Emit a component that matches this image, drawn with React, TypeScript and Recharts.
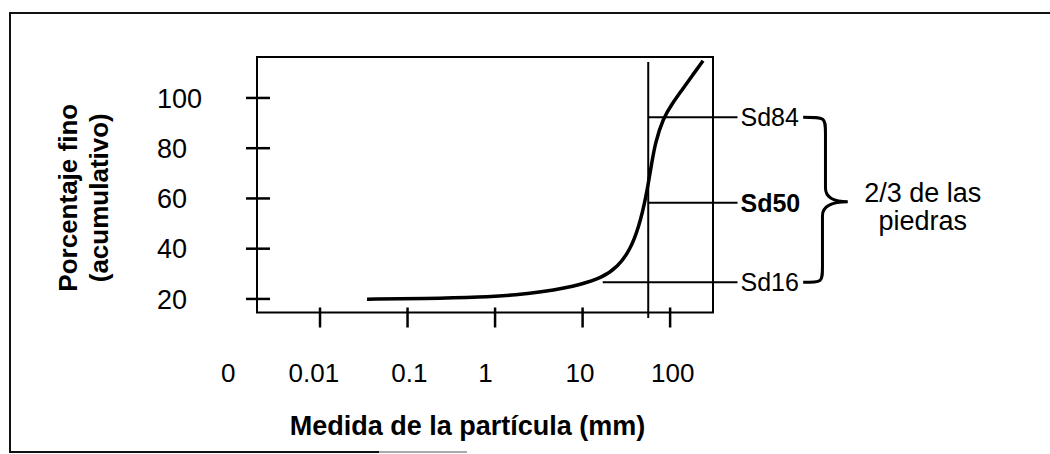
import React from 'react';
import { LineChart, Line, XAxis, YAxis, ReferenceLine, ReferenceArea } from 'recharts';

const FONT = '"Liberation Sans", Arial, Helvetica, sans-serif';

// Curve: particle size (mm) vs. cumulative percent finer
const particleSizeMm = [0.0344, 0.155, 0.71, 1.78, 3.63, 6.3, 9.1, 16.3, 25.5, 34.9, 44.2, 53.2, 60.7, 67.4, 83.2, 105, 137, 178, 238];
const percentFine = [19.9, 20.1, 20.7, 21.6, 22.9, 24.4, 25.6, 28.2, 32.9, 39.5, 48.8, 60.7, 72.7, 82.0, 91.9, 97.6, 103.2, 108.8, 114.8];

// Axis ticks
const xTickMm = [0.01, 0.1, 1, 10, 100];
const xLabelPosLog = [-3.05, -2.07, -0.98, -0.11, 0.97, 2.03];
const xLabelTexts = ['0', '0.01', '0.1', '1', '10', '100'];
const yTicks = [20, 40, 60, 80, 100];

// Domains (x in log10 mm)
const xDomain = [-2.72, 2.49];
const yDomain = [14.6, 116.3];

// Reference marks
const d50Log = 1.75;
const verticalSpan = [12.4, 114.3];
const sdNames = ['Sd84', 'Sd50', 'Sd16'];
const sdPercent = [92.3, 58.3, 26.6];
const sdStartLog = [1.75, 1.75, 1.23];
const sdEndLog = 2.77;
const braceX = [3.52, 4.03];
const braceText = ['2/3 de las', 'piedras'];

const data = particleSizeMm.map((mm, i) => ({ x: Math.log10(mm), y: percentFine[i] }));
const xTicks = xTickMm.map((v) => Math.log10(v));
const allXTicks = [...xTicks, ...xLabelPosLog].sort((a, b) => a - b);

const near = (a: number, b: number) => Math.abs(a - b) < 1e-6;

const YTick = (props: any) => {
  const { x, y, payload } = props;
  return (
    <g>
      <line x1={x - 11} x2={x + 13} y1={y} y2={y} stroke="#000" strokeWidth={2.5} />
      <text x={x - 100} y={y} dy="0.36em" fontSize={27} fontFamily={FONT} fill="#000">
        {payload.value}
      </text>
    </g>
  );
};

const XTick = (props: any) => {
  const { x, y, payload } = props;
  const v = payload.value;
  const isMark = xTicks.some((t) => near(t, v));
  const labelIdx = xLabelPosLog.findIndex((t) => near(t, v));
  return (
    <g>
      {isMark && <line x1={x} x2={x} y1={y - 5} y2={y + 15} stroke="#000" strokeWidth={2.5} />}
      {labelIdx >= 0 && (
        <text x={x} y={y + 69} textAnchor="middle" fontSize={26} fontFamily={FONT} fill="#000">
          {xLabelTexts[labelIdx]}
        </text>
      )}
    </g>
  );
};

const XTitle = (props: any) => {
  const vb = props.viewBox || { x: 0, y: 0, width: 0, height: 0 };
  return (
    <text
      x={vb.x + vb.width / 2 - 17.5}
      y={vb.y + 122.5}
      textAnchor="middle"
      fontSize={27}
      fontWeight="bold"
      fontFamily={FONT}
      fill="#000"
    >
      Medida de la partícula (mm)
    </text>
  );
};

const YTitle = (props: any) => {
  const vb = props.viewBox || { x: 0, y: 0, width: 0, height: 0 };
  const cy = vb.y + vb.height / 2 + 13;
  const x1 = vb.x + 77;
  const x2 = vb.x + 108;
  return (
    <g>
      <text
        x={x1}
        y={cy}
        transform={`rotate(-90, ${x1}, ${cy})`}
        textAnchor="middle"
        fontSize={26}
        fontWeight="bold"
        fontFamily={FONT}
        fill="#000"
      >
        Porcentaje fino
      </text>
      <text
        x={x2}
        y={cy}
        transform={`rotate(-90, ${x2}, ${cy})`}
        textAnchor="middle"
        fontSize={26}
        fontWeight="bold"
        fontFamily={FONT}
        fill="#000"
      >
        (acumulativo)
      </text>
    </g>
  );
};

const Brace = (props: any) => {
  const { x, y, width, height } = props;
  const x0 = x;
  const y0 = y;
  const y1 = y + height;
  const ym = y + height / 2 + 2;
  const xv = x0 + width * 0.5;
  const xt = x0 + width;
  const d = [
    `M ${x0} ${y0}`,
    `C ${xv} ${y0} ${xv} ${y0} ${xv} ${y0 + 16}`,
    `L ${xv} ${ym - 14}`,
    `C ${xv} ${ym - 2} ${xt - 10} ${ym} ${xt} ${ym}`,
    `C ${xt - 10} ${ym} ${xv - 3} ${ym + 2} ${xv - 3} ${ym + 14}`,
    `L ${xv - 3} ${y1 - 16}`,
    `C ${xv - 3} ${y1} ${xv - 3} ${y1} ${x0} ${y1}`,
  ].join(' ');
  return (
    <g>
      <path d={d} fill="none" stroke="#000" strokeWidth={3} />
      <text x={xt + 75} y={ym} textAnchor="middle" fontSize={27} fontFamily={FONT} fill="#000">
        {braceText[0]}
      </text>
      <text x={xt + 75} y={ym + 28} textAnchor="middle" fontSize={27} fontFamily={FONT} fill="#000">
        {braceText[1]}
      </text>
    </g>
  );
};

export default function App() {
  return (
    <div style={{ position: 'absolute', left: 0, top: 0, width: 1050, height: 454, background: '#fff' }}>
      <div style={{ position: 'absolute', left: 9, top: 12, width: 1041, height: 0, borderTop: '2px solid #111' }} />
      <div style={{ position: 'absolute', left: 9, top: 12, width: 0, height: 441, borderLeft: '2px solid #111' }} />
      <div style={{ position: 'absolute', left: 9, top: 451, width: 370, height: 0, borderTop: '2px solid #111' }} />
      <div style={{ position: 'absolute', left: 379, top: 451, width: 88, height: 0, borderTop: '2px solid #aaa' }} />
      <div style={{ position: 'absolute', left: 0, top: 0 }}>
        <LineChart
          width={1050}
          height={454}
          data={data}
          margin={{ top: 57, right: 337, bottom: 41.5, left: 0 }}
        >
          <XAxis
            dataKey="x"
            type="number"
            domain={xDomain}
            allowDataOverflow
            ticks={allXTicks}
            interval={0}
            tick={<XTick />}
            tickLine={false}
            axisLine={false}
            tickSize={0}
            tickMargin={0}
            height={100}
            label={{ content: <XTitle /> }}
          />
          <YAxis
            type="number"
            domain={yDomain}
            allowDataOverflow
            ticks={yTicks}
            interval={0}
            tick={<YTick />}
            tickLine={false}
            axisLine={false}
            tickSize={0}
            tickMargin={0}
            width={257}
            label={{ content: <YTitle /> }}
          />
          <ReferenceArea
            x1={xDomain[0]}
            x2={xDomain[1]}
            y1={yDomain[0]}
            y2={yDomain[1]}
            fill="none"
            fillOpacity={0}
            stroke="#000"
            strokeWidth={2}
            ifOverflow="visible"
          />
          <ReferenceLine
            segment={[
              { x: d50Log, y: verticalSpan[0] },
              { x: d50Log, y: verticalSpan[1] },
            ]}
            stroke="#000"
            strokeWidth={2}
            ifOverflow="visible"
          />
          {sdNames.map((name, i) => (
            <ReferenceLine
              key={name}
              segment={[
                { x: sdStartLog[i], y: sdPercent[i] },
                { x: sdEndLog, y: sdPercent[i] },
              ]}
              stroke="#000"
              strokeWidth={2}
              ifOverflow="visible"
              label={{
                value: name,
                position: 'right',
                offset: 3,
                fontSize: 25,
                fontFamily: FONT,
                fontWeight: name === 'Sd50' ? 'bold' : 'normal',
                fill: '#000',
              }}
            />
          ))}
          <ReferenceArea
            x1={braceX[0]}
            x2={braceX[1]}
            y1={sdPercent[2]}
            y2={sdPercent[0]}
            ifOverflow="visible"
            shape={<Brace />}
          />
          <Line
            dataKey="y"
            type="basis"
            stroke="#000"
            strokeWidth={3.5}
            dot={false}
            activeDot={false}
            isAnimationActive={false}
          />
        </LineChart>
      </div>
    </div>
  );
}
